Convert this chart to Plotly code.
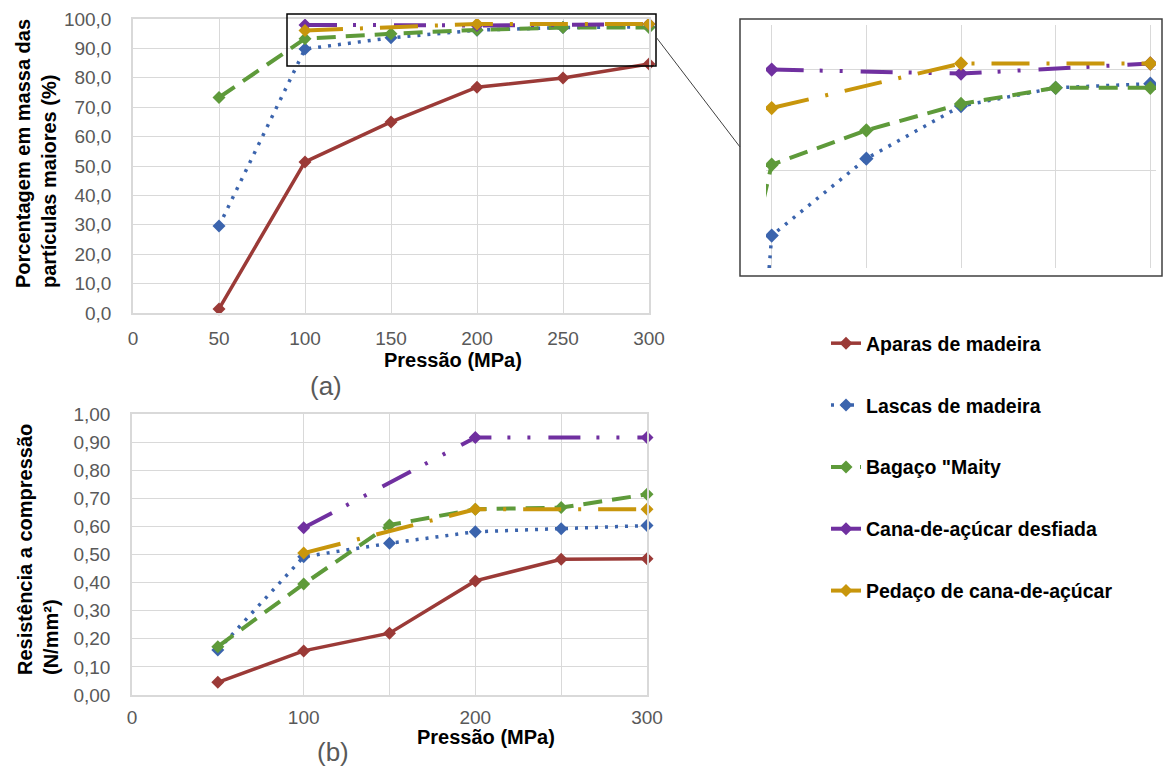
import plotly.graph_objects as go

# ---------------- data ----------------
pressao = [50, 100, 150, 200, 250, 300]
pressao_cana = [100, 200, 300]

series_names = ["Aparas de madeira", "Lascas de madeira", "Bagaço \"Maity",
                "Cana-de-açúcar desfiada", "Pedaço de cana-de-açúcar"]

# (a) Porcentagem em massa das partículas maiores (%)
aparas_a = [1.4, 51.4, 65.0, 76.8, 79.9, 84.7]
lascas_a = [29.6, 89.8, 93.6, 96.2, 97.1, 97.3]
bagaco_a = [73.3, 93.3, 95.0, 96.3, 97.1, 97.1]
desfiada_a = [98.0, 97.8, 98.3]
pedaco_a = [96.1, 98.3, 98.3]

# (b) Resistência a compressão (N/mm²)
aparas_b = [0.045, 0.157, 0.220, 0.406, 0.483, 0.485]
lascas_b = [0.160, 0.492, 0.540, 0.581, 0.592, 0.603]
bagaco_b = [0.172, 0.395, 0.605, 0.661, 0.667, 0.714]
desfiada_b = [0.595, 0.916, 0.916]
pedaco_b = [0.505, 0.661, 0.661]

x_ticks_a = [0, 50, 100, 150, 200, 250, 300]
x_ticks_b = [0, 100, 200, 300]
x_minor_b = [150, 250]

# ---------------- styles ----------------
colors = ["#9B3A37", "#3B64AD", "#5E9A3A", "#7030A0", "#C8960C"]
dashes = ["solid", "3px,7px", "19px,10px", "32px,16px,3px,17px,3px,18px", "38px,17px,3px,17px"]
widths = [3.5, 3.5, 4, 4, 4]

W, H = 1168, 769
def px_x(p):
    return p / W
def px_y(p):
    return 1 - p / H

FONT = "Arial, Liberation Sans, sans-serif"
GRID = "#D9D9D9"
TICKC = "#595959"

fig = go.Figure()

xs_a = [pressao, pressao, pressao, pressao_cana, pressao_cana]
ys_a = [aparas_a, lascas_a, bagaco_a, desfiada_a, pedaco_a]
ys_b = [aparas_b, lascas_b, bagaco_b, desfiada_b, pedaco_b]

for i in range(5):
    fig.add_trace(go.Scatter(
        x=xs_a[i], y=ys_a[i], name=series_names[i], legendgroup=series_names[i],
        mode="lines+markers", cliponaxis=False,
        line=dict(color=colors[i], width=widths[i], dash=dashes[i]),
        marker=dict(symbol="diamond", size=10, color=colors[i]),
        xaxis="x", yaxis="y", showlegend=True))

for i in range(5):
    fig.add_trace(go.Scatter(
        x=xs_a[i], y=ys_b[i], name=series_names[i], legendgroup=series_names[i],
        mode="lines+markers", cliponaxis=False,
        line=dict(color=colors[i], width=widths[i], dash=dashes[i]),
        marker=dict(symbol="diamond", size=10, color=colors[i]),
        xaxis="x2", yaxis="y2", showlegend=False))

for i in range(5):
    fig.add_trace(go.Scatter(
        x=xs_a[i], y=ys_a[i], name=series_names[i], legendgroup=series_names[i],
        mode="lines+markers", cliponaxis=True,
        line=dict(color=colors[i], width=widths[i], dash=dashes[i]),
        marker=dict(symbol="diamond", size=11, color=colors[i]),
        xaxis="x3", yaxis="y3", showlegend=False))

axis_common = dict(showgrid=True, gridcolor=GRID, gridwidth=1, zeroline=False,
                   showline=True, linecolor=GRID, linewidth=1.5, mirror=True,
                   automargin=False,
                   tickfont=dict(family=FONT, size=19, color=TICKC), ticks="")

fig.update_layout(
    width=W, height=H, margin=dict(l=0, r=0, t=0, b=0, autoexpand=False),
    paper_bgcolor="white", plot_bgcolor="white",
    separators=",.",
    font=dict(family=FONT),
    xaxis=dict(domain=[px_x(133), px_x(649)], range=[0, 300], tickvals=x_ticks_a,
               ticklabelstandoff=7, anchor="y", **axis_common),
    yaxis=dict(domain=[px_y(313), px_y(19)], range=[0, 100], dtick=10, tickformat=".1f",
               ticklabelstandoff=16, anchor="x", **axis_common),
    xaxis2=dict(domain=[px_x(132), px_x(647)], range=[0, 300], tickvals=x_ticks_b,
                minor=dict(tickvals=x_minor_b, showgrid=True, gridcolor=GRID, gridwidth=1),
                ticklabelstandoff=4, anchor="y2", **axis_common),
    yaxis2=dict(domain=[px_y(695), px_y(414)], range=[0, 1], dtick=0.1, tickformat=".2f",
                ticklabelstandoff=16, anchor="x2", **axis_common),
    xaxis3=dict(domain=[px_x(766), px_x(1156)], range=[97, 303], tick0=0, dtick=50,
                showticklabels=False, showgrid=True, gridcolor=GRID, zeroline=False,
                showline=False, automargin=False, anchor="y3"),
    yaxis3=dict(domain=[px_y(268), px_y(25)], range=[88.2, 100.2], tick0=3, dtick=5,
                showticklabels=False, showgrid=True, gridcolor=GRID, zeroline=False,
                showline=False, automargin=False, anchor="x3"),
    legend=dict(x=px_x(826), y=px_y(324), xanchor="left", yanchor="top",
                traceorder="grouped", tracegroupgap=33.5, itemwidth=30,
                font=dict(family=FONT, size=19.5, color="black", weight="bold"),
                bgcolor="rgba(0,0,0,0)"),
    showlegend=True,
)

title_font = dict(family=FONT, size=20, color="black", weight="bold")
annotations = [
    dict(text="Porcentagem em massa das<br>partículas maiores (%)", x=px_x(36), y=px_y(154),
         textangle=-90, align="left", font=title_font),
    dict(text="Pressão (MPa)", x=px_x(453), y=px_y(360), font=title_font),
    dict(text="(a)", x=px_x(326), y=px_y(386), font=dict(family=FONT, size=26, color=TICKC)),
    dict(text="Resistência a compressão<br>(N/mm²)", x=px_x(38), y=px_y(550),
         textangle=-90, align="left", font=title_font),
    dict(text="Pressão (MPa)", x=px_x(486), y=px_y(737), font=title_font),
    dict(text="(b)", x=px_x(333), y=px_y(752), font=dict(family=FONT, size=26, color=TICKC)),
]
for a in annotations:
    a.update(xref="paper", yref="paper", showarrow=False, xanchor="center", yanchor="middle")
fig.update_layout(annotations=annotations)

shapes = [
    dict(type="rect", xref="paper", yref="paper", x0=px_x(287), x1=px_x(656),
         y0=px_y(66), y1=px_y(14), line=dict(color="black", width=1.5)),
    dict(type="rect", xref="paper", yref="paper", x0=px_x(740), x1=px_x(1162),
         y0=px_y(276), y1=px_y(19), line=dict(color="#404040", width=1.5)),
    dict(type="line", xref="paper", yref="paper", x0=px_x(656), x1=px_x(740),
         y0=px_y(37), y1=px_y(147), line=dict(color="#404040", width=1)),
]
fig.update_layout(shapes=shapes)

fig.write_html("out.html", config={"displayModeBar": False},
               post_script="document.body.style.margin='0';"
                           "document.documentElement.style.overflow='hidden';")
